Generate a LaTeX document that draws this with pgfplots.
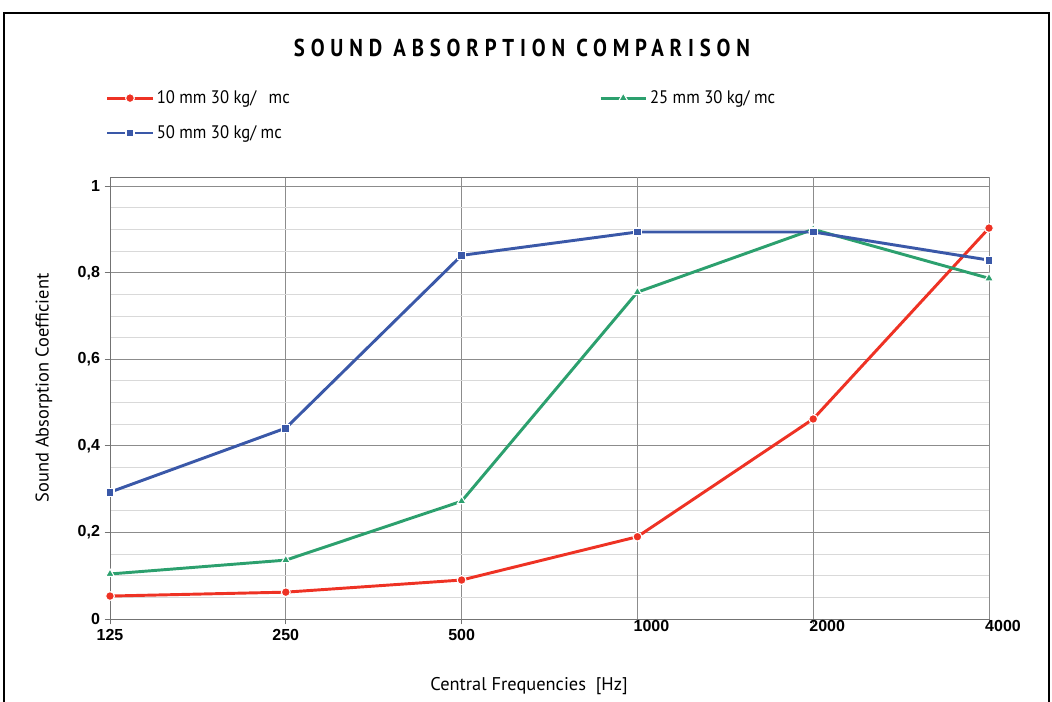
\documentclass[border=0pt]{standalone}
\usepackage{fontspec}
\setmainfont{Liberation Sans}
\newfontfamily\myr{PT Sans}
\newfontfamily\myrc[FakeStretch=0.92]{PT Sans}
\newfontfamily\titlefont[FakeStretch=0.85,LetterSpace=24]{PT Sans}
\usepackage{pgfplots}
\pgfplotsset{compat=1.18}
\definecolor{cred}{RGB}{238,50,36}
\definecolor{cgreen}{RGB}{44,160,110}
\definecolor{cblue}{RGB}{58,88,168}
\begin{document}
\begin{tikzpicture}
\useasboundingbox (0,0) rectangle (789pt,526.5pt);
\begin{scope}[shift={(0,526.5pt)},x=0.75pt,y=-0.75pt]
\draw[line width=1.8pt] (4,720) -- (4,13) -- (1049,13) -- (1049,720);
\node[font=\titlefont\bfseries\fontsize{18.3}{20}\selectfont] at (522,48) {SOUND ABSORPTION COMPARISON};
\node[rotate=90, font=\myr\fontsize{13.8}{15}\selectfont] at (44,388) {Sound Absorption Coefficient};
\node[font=\myr\fontsize{13.8}{15}\selectfont] at (529,686) {Central Frequencies\ \ [Hz]};
\end{scope}
\begin{axis}[
  at={(82.5pt,62.25pt)}, anchor=south west,
  scale only axis, width=659.25pt, height=331.5pt,
  xmin=0, xmax=5, ymin=0, ymax=1.021,
  xtick={0,1,2},
  xticklabels={125,250,500},
  extra x ticks={3,4,5},
  extra x tick labels={1000,2000,4000},
  extra x tick style={xticklabel style={xshift=10.5pt, yshift=6.5pt}},
  ytick={0,0.2,0.4,0.6,0.8,1},
  yticklabels={0,{0,2},{0,4},{0,6},{0,8},1},
  minor ytick={0.05,0.1,0.15,0.25,0.3,0.35,0.45,0.5,0.55,0.65,0.7,0.75,0.85,0.9,0.95},
  grid=both,
  major grid style={color=black!45, line width=0.5pt},
  minor grid style={color=black!15, line width=0.6pt},
  axis line style={black!55, line width=0.6pt},
  tick style={black!55, line width=0.5pt},
  tick align=outside, major tick length=4pt, minor tick length=0pt,
  xtick pos=bottom, ytick pos=left,
  ticklabel style={font=\bfseries\fontsize{12}{14}\selectfont},
  legend columns=2,
  legend cell align=left,
  legend style={draw=none, fill=none, at={(rel axis cs:-0.005,1.202)}, anchor=north west,
    font=\myrc\fontsize{13.6}{15}\selectfont, inner sep=0pt, row sep=11pt,
    /tikz/every even column/.append style={column sep=230pt}},
  legend image code/.code={\draw[mark repeat=2,mark phase=2] plot coordinates {(0pt,0pt) (17pt,0pt) (34pt,0pt)};},
  every axis plot/.append style={line width=2.2pt},
]
\addplot[cred, mark=*, mark size=3.3pt, mark options={fill=cred, draw=white, line width=0.8pt}]
  coordinates {(0,0.053) (1,0.062) (2,0.090) (3,0.190) (4,0.462) (5,0.903)};
\addlegendentry{10 mm 30 kg/\hspace{6pt} mc}
\addplot[cgreen, mark=triangle*, mark size=3.8pt, mark options={fill=cgreen, draw=white, line width=0.8pt}]
  coordinates {(0,0.104) (1,0.136) (2,0.272) (3,0.755) (4,0.900) (5,0.787)};
\addlegendentry{25 mm 30 kg/ mc}
\addplot[cblue, mark=square*, mark size=3pt, mark options={fill=cblue, draw=white, line width=0.8pt}]
  coordinates {(0,0.293) (1,0.441) (2,0.840) (3,0.894) (4,0.894) (5,0.829)};
\addlegendentry{50 mm 30 kg/ mc}
\end{axis}
\end{tikzpicture}
\end{document}
